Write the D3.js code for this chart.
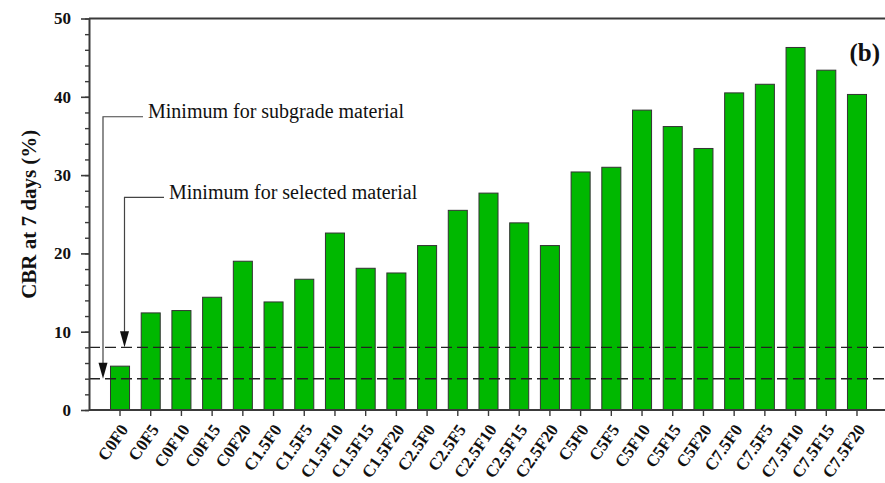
<!DOCTYPE html>
<html>
<head>
<meta charset="utf-8">
<script src="https://cdn.jsdelivr.net/npm/d3@7"></script>
<style>
  body { margin: 0; background: #fff; }
  svg { display: block; font-family: "Liberation Serif", "Times New Roman", serif; }
</style>
</head>
<body>
<div id="chart"></div>
<script>
// data
const mixes = ["C0F0","C0F5","C0F10","C0F15","C0F20",
    "C1.5F0","C1.5F5","C1.5F10","C1.5F15","C1.5F20",
    "C2.5F0","C2.5F5","C2.5F10","C2.5F15","C2.5F20",
    "C5F0","C5F5","C5F10","C5F15","C5F20",
    "C7.5F0","C7.5F5","C7.5F10","C7.5F15","C7.5F20"]
const cbr7 = [5.6,12.4,12.7,14.4,19.0,
    13.8,16.7,22.6,18.1,17.5,
    21.0,25.5,27.7,23.9,21.0,
    30.4,31.0,38.3,36.2,33.4,
    40.5,41.6,46.3,43.4,40.3]
const yTicks = [0,10,20,30,40,50]
const limits = [
    {label:"Minimum for subgrade material", value:4, leaderAt:37.45},
    {label:"Minimum for selected material", value:8, leaderAt:27.15}
]

const W = 885, H = 483
const margin = {top:18.5,right:-3,bottom:73,left:89}

const svg = d3.select("#chart")
    .append("svg")
    .attr("width",W)
    .attr("height",H)

const x = d3.scaleBand()
    .domain(mixes)
    .range([margin.left, W - margin.right])
    .paddingInner(.38)
    .paddingOuter(.7)

const y = d3.scaleLinear()
    .domain([0,50])
    .range([H - margin.bottom, margin.top])

const axisColor = "#3a3a3a"

// bars
svg.append("g")
    .selectAll("rect")
    .data(mixes)
    .join("rect")
    .attr("x", d => x(d))
    .attr("y", (d,i) => y(cbr7[i]))
    .attr("width", x.bandwidth())
    .attr("height", (d,i) => y(0) - y(cbr7[i]))
    .attr("fill","#00b800")
    .attr("stroke","#333")
    .attr("stroke-width",1)

// dashed limit lines
svg.append("g")
    .selectAll("line")
    .data(limits)
    .join("line")
    .attr("x1", margin.left)
    .attr("x2", W - margin.right)
    .attr("y1", d => y(d.value))
    .attr("y2", d => y(d.value))
    .attr("stroke","#222")
    .attr("stroke-width",1.4)
    .attr("stroke-dasharray","11,5")

// frame (top + right)
svg.append("path")
    .attr("d", `M${margin.left},${y(50)}H${W - margin.right}V${y(0)}`)
    .attr("fill","none")
    .attr("stroke",axisColor)
    .attr("stroke-width",2)

// y axis minor ticks
svg.append("g")
    .attr("transform",`translate(${margin.left},0)`)
    .call(d3.axisLeft(y).tickValues(d3.range(0,51,2)).tickSize(4).tickFormat(""))
    .call(g => g.select(".domain").remove())
    .call(g => g.selectAll("line").attr("stroke",axisColor).attr("stroke-width",1.4))

// y axis
svg.append("g")
    .attr("transform",`translate(${margin.left},0)`)
    .call(d3.axisLeft(y).tickValues(yTicks).tickSize(8).tickPadding(10).tickSizeOuter(0))
    .call(g => g.select(".domain").attr("stroke",axisColor).attr("stroke-width",2))
    .call(g => g.selectAll("line").attr("stroke",axisColor).attr("stroke-width",1.6))
    .call(g => g.selectAll("text")
        .attr("fill","#111")
        .style("font-size","17px")
        .style("font-weight","bold")
        .style("font-family","'Liberation Serif', serif"))

// x axis
svg.append("g")
    .attr("transform",`translate(0,${y(0)})`)
    .call(d3.axisBottom(x).tickSize(6).tickSizeOuter(0))
    .call(g => g.select(".domain")
        .attr("d", `M${margin.left},0H${W - margin.right}`)
        .attr("stroke",axisColor).attr("stroke-width",2))
    .call(g => g.selectAll("line").attr("stroke",axisColor).attr("stroke-width",1.4))
    .call(g => g.selectAll("text")
        .attr("x",0)
        .attr("y",0)
        .attr("dy","0.35em")
        .attr("text-anchor","end")
        .attr("transform","translate(4,16) rotate(-55)")
        .attr("fill","#111")
        .style("font-size","17px")
        .style("font-weight","bold")
        .style("font-family","'Liberation Serif', serif"))

// y title
svg.append("text")
    .attr("transform",`translate(36,${(y(0)+y(50))/2}) rotate(-90)`)
    .attr("text-anchor","middle")
    .attr("fill","#111")
    .style("font-size","21px")
    .style("font-weight","bold")
    .text("CBR at 7 days (%)")

// panel letter
svg.append("text")
    .attr("x", W - 5)
    .attr("y", y(44.6))
    .attr("text-anchor","end")
    .attr("fill","#111")
    .style("font-size","25px")
    .style("font-weight","bold")
    .text("(b)")

// annotations with arrows
const arrowX = [x(mixes[0]) - 7.5, x(mixes[0]) + 14]
const textX = [148, 169]

limits.forEach((d,i)=>{
    const ax = arrowX[i]
    const ly = y(d.leaderAt)
    const tip = y(d.value)

    svg.append("path")
        .attr("d", `M${textX[i]-5},${ly}H${ax}V${tip-14}`)
        .attr("fill","none")
        .attr("stroke","#444")
        .attr("stroke-width",1.2)

    svg.append("path")
        .attr("d", `M${ax-4.5},${tip-16}L${ax+4.5},${tip-16}L${ax},${tip}Z`)
        .attr("fill","#111")

    svg.append("text")
        .attr("x", textX[i])
        .attr("y", ly + 1.5)
        .attr("fill","#111")
        .style("font-size","20px")
        .text(d.label)
})
</script>
</body>
</html>
